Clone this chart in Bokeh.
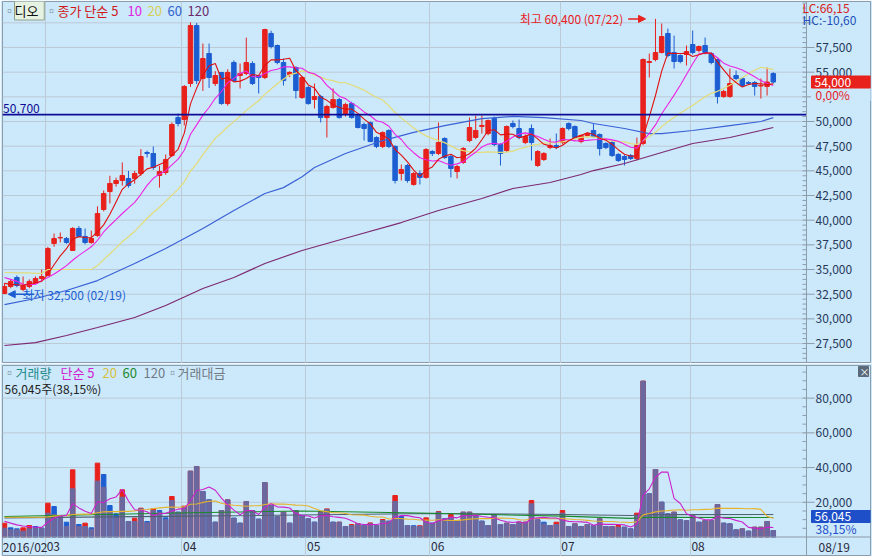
import numpy as np
import pandas as pd
from bokeh.plotting import figure
from bokeh.layouts import column
from bokeh.models import (Range1d, FixedTicker, Span, Label, ColumnDataSource, Arrow, NormalHead)
from bokeh.embed import file_html
from bokeh.resources import INLINE
from bokeh.core.properties import value

# ---------------- data ----------------
opens = [32570, 33280, 34190, 32980, 33280, 33580, 34090, 34400, 37640, 38200,
         38140, 36930, 39160, 38350, 37740, 38450, 41080, 42900, 43720, 44020,
         44220, 44220, 44730, 46860, 46760, 44530, 44830, 46550, 50400, 50200,
         53850, 59730, 54360, 56890, 53850, 54970, 51820, 55980, 54660, 54860,
         55880, 54660, 54460, 58920, 57700, 55980, 54760, 55470, 52430, 53450,
         52230, 52530, 50400, 51420, 52230, 50710, 51820, 50610, 49700, 49900,
         48380, 47470, 49090, 47470, 44730, 45540, 43620, 44730, 44330, 46960,
         46760, 48280, 46450, 44930, 45850, 48070, 48380, 49500, 48780, 50300,
         47670, 47060, 49800, 49290, 47870, 49290, 45540, 46150, 47370, 47570,
         47870, 49800, 49490, 47970, 48580, 49090, 48680, 47770, 47870, 46660,
         46450, 46550, 46250, 47770, 55980, 56280, 56990, 58920, 56990, 56690,
         56790, 57800, 57200, 57700, 56890, 56280, 52530, 52530, 54660, 54360,
         53950, 53950, 53600, 53550, 54860]
highs = [33600, 34000, 34400, 34300, 34000, 34300, 35000, 37300, 38650, 38750,
         38300, 39300, 39400, 39150, 38950, 41400, 43000, 44500, 44300, 45850,
         45000, 45000, 47200, 47050, 47470, 45500, 46660, 49900, 50800, 53700,
         60050, 60000, 57900, 57900, 55100, 55000, 55300, 56200, 55880, 58500,
         56100, 54700, 59400, 59200, 57800, 56380, 55100, 55600, 54600, 53600,
         53850, 52700, 51700, 53350, 52400, 51900, 52000, 50700, 49900, 50000,
         48500, 49000, 49200, 47600, 45640, 45700, 44900, 45040, 47300, 47100,
         49900, 48400, 46600, 45600, 47400, 50400, 50600, 50610, 50200, 50500,
         47800, 49600, 50100, 50200, 48700, 49700, 47100, 46900, 48280, 48780,
         49400, 49900, 49600, 48700, 48900, 49800, 48800, 47900, 48000, 46800,
         46600, 46700, 48380, 56400, 56890, 60400, 59930, 59420, 58700, 56800,
         57700, 59220, 57700, 58510, 57000, 56400, 53200, 55370, 55170, 54500,
         54100, 54100, 54360, 55470, 55000]
lows = [32500, 33100, 33200, 32800, 33100, 33500, 33900, 34300, 37300, 37750,
        37600, 36900, 38300, 37550, 37600, 38300, 40900, 41700, 43400, 43500,
        43300, 43700, 44500, 46350, 45100, 43300, 44600, 46400, 49500, 49600,
        53500, 53800, 53100, 53400, 53600, 51700, 51600, 54000, 53340, 54700,
        53700, 52840, 54300, 57400, 55800, 53650, 54500, 52330, 52300, 51700,
        51320, 49900, 48380, 51300, 50300, 50500, 50300, 49300, 48070, 47900,
        47300, 47300, 47300, 43720, 44020, 43800, 43500, 43620, 44200, 46500,
        46600, 46200, 44330, 44220, 45700, 47900, 48200, 48780, 48600, 47500,
        45540, 46900, 49300, 48200, 47700, 46050, 45400, 46000, 47200, 47200,
        47700, 49100, 48200, 47800, 48400, 48400, 46550, 47200, 46400, 45900,
        45540, 46100, 46050, 47600, 54460, 56100, 56900, 56500, 55370, 55900,
        55670, 56800, 57000, 56800, 55800, 51820, 52400, 52400, 54200, 53500,
        53700, 52630, 52330, 52630, 53850]
closes = [33280, 33790, 33380, 33380, 33790, 34090, 34290, 37130, 38140, 38250,
          37740, 39160, 38350, 37740, 38140, 40680, 42700, 43720, 44020, 44530,
          43510, 44730, 46450, 46760, 45340, 44930, 46150, 49700, 49800, 53550,
          59730, 54150, 56380, 54460, 54660, 51820, 54970, 54150, 54860, 55980,
          53850, 54460, 59320, 57600, 55980, 54150, 54970, 53140, 54460, 51820,
          52530, 50400, 51520, 52230, 50400, 51720, 50400, 49390, 49290, 47970,
          47470, 48880, 47470, 44020, 45140, 44020, 44730, 44330, 47160, 46760,
          47870, 46350, 45240, 45440, 47260, 49390, 49090, 49600, 50100, 47670,
          46760, 49490, 49490, 48380, 48480, 47870, 46960, 46760, 47570, 47370,
          49290, 49290, 48380, 48580, 48780, 48480, 47260, 47370, 46550, 46050,
          46150, 46250, 47570, 56280, 56080, 56990, 58610, 56690, 56080, 56080,
          57090, 56990, 57600, 56990, 55980, 52530, 53040, 53850, 54360, 53650,
          53850, 53550, 53650, 54000, 54000]
volume = [7970, 5280, 4700, 5280, 6620, 6050, 5090, 19490, 17570, 11810,
          8540, 38690, 7200, 7970, 5300, 42530, 36000, 18140, 13340, 27170,
          8930, 10850, 16610, 8930, 16220, 15260, 11040, 23330, 14300, 17760,
          37920, 40610, 26210, 21410, 8540, 15260, 21410, 10850, 7970, 20450,
          15260, 10270, 31390, 18140, 11810, 14300, 7970, 15260, 12400, 10460,
          8540, 14690, 16200, 8540, 8540, 6050, 7200, 7580, 6620, 8100,
          6620, 10080, 9120, 23900, 11810, 6620, 6500, 6500, 11040, 7970,
          14700, 10460, 12960, 9120, 14300, 14300, 12380, 9120, 6620, 12960,
          7200, 7970, 7200, 8540, 8540, 21020, 9890, 8540, 6620, 8540,
          15260, 6050, 7580, 6050, 7200, 6620, 10460, 6050, 6050, 6620,
          5660, 4700, 13730, 89760, 24860, 38880, 20060, 13340, 14300, 9890,
          9500, 12380, 8540, 9500, 9500, 18720, 7970, 7580, 4130, 4700,
          3360, 5660, 5660, 8930, 3740]
trade_value = [5090, 4130, 4130, 3360, 4700, 5090, 5090, 13730, 12960, 11200,
               6050, 27740, 6050, 6050, 4500, 32160, 28700, 14880, 11040, 22940,
               8930, 8930, 16220, 8200, 15260, 14300, 10000, 21020, 14300, 17180,
               37920, 40610, 26210, 21410, 8540, 15260, 21410, 10850, 7970, 20450,
               15260, 10270, 31390, 18140, 11810, 14300, 7970, 15260, 11810, 10460,
               8540, 14300, 15840, 8540, 8540, 6050, 6620, 7580, 6620, 7580,
               6620, 9500, 9120, 20450, 10460, 6620, 6050, 6050, 9500, 7970,
               14300, 10460, 11420, 9120, 14300, 14300, 12380, 9120, 6620, 12960,
               7200, 7970, 7200, 8540, 8540, 19100, 9890, 7580, 6620, 7200,
               13730, 6050, 7580, 6050, 7200, 6620, 10460, 6050, 6050, 5660,
               5660, 4700, 12380, 89760, 24860, 38880, 20060, 13340, 14300, 9890,
               9500, 12380, 8540, 9500, 9500, 18720, 7970, 7580, 4130, 4700,
               3360, 5660, 5660, 8930, 3740]

# start of the moving averages (their earlier history is off-screen)
ma5_head = [33600, 33500, 33450, 33400]
ma10_head = [34190, 34000, 33800, 33500, 33450, 33500, 33900, 34200, 34550]
ma20_head = [34700, 34700, 34650, 34650, 34650, 34600, 34600, 35000, 35000, 35000,
             35000, 35000, 35000, 35000, 35000, 35400, 36000, 36600, 37200]
ma60_idx = [0, 5, 10, 15, 21, 26, 32, 37, 42, 45, 48, 50, 55, 61, 66, 71, 77, 82,
            87, 93, 95, 100, 104, 106, 111, 117, 122, 124]
ma60_val = [31450, 32060, 32870, 33880, 35610, 37130, 39160, 40980, 42700, 43300,
            44400, 45340, 46760, 48070, 48890, 49590, 50300, 50510, 50400, 50100,
            49800, 49290, 48780, 48780, 49090, 49590, 50000, 50400]
ma120_idx = [0, 5, 10, 15, 21, 26, 32, 37, 42, 48, 56, 64, 70, 77, 82, 88, 93, 95,
             100, 106, 111, 117, 122, 124]
ma120_val = [27300, 27600, 28310, 29120, 30140, 31350, 33080, 34190, 35610, 36930,
             38350, 39760, 40980, 42200, 43210, 43820, 44630, 45030, 45740, 46860,
             47770, 48380, 49090, 49390]
vma5_head = [9100, 8000, 7000, 6300]
vma20_head = [11400, 11400, 11400, 11400, 11400, 11400, 11400, 11600, 12000, 12200,
              12300, 13000, 13100, 13200, 13200, 14000, 14500, 14600, 14600]
vma60_idx = [0, 30, 48, 69, 90, 101, 104, 124]
vma60_val = [11800, 14000, 15000, 13700, 12000, 10700, 11400, 11230]
vma120_idx = [0, 30, 69, 90, 101, 104, 124]
vma120_val = [11000, 12000, 13500, 13000, 12400, 12900, 12960]

month_labels = ["2016/02", "03", "04", "05", "06", "07", "08"]
month_start = [0, 7, 29, 49, 69, 90, 111]
last_date_label = "08/19"
price_ticks = [27500, 30000, 32500, 35000, 37500, 40000, 42500, 45000, 47500,
               50000, 52500, 55000, 57500]
price_grid = price_ticks + [60000]
volume_ticks = [20000, 40000, 60000, 80000]
ref_price = 50700
hi_date, lo_date = "07/22", "02/19"
lc_text, hc_text = "LC:66,15", "HC:-10,60"
last_change_text = "0,00%"
last_vol_text = "56,045"
vol_ratio_text = "38,15%"

# ---------------- styles ----------------
BG = "#cce8fb"
GRID = "#bccad6"
FRAME = "#8c9cab"
RED = "#e8211c"
BLUE = "#1c5ed2"
BAR = "#6a689f"
C_MA5, C_MA10, C_MA20, C_MA60, C_MA120 = "#e01010", "#ee22e6", "#e3dc78", "#3a62d6", "#7d2a72"
C_V5, C_V20, C_V60, C_V120 = "#cc22cc", "#e6b42c", "#1a8a2a", "#4f6272"
NAVY = "#0c0c96"
AXIS_TXT = "#25385a"
FONT = "Noto Sans CJK KR"
W = 872
STEP = 6.2                     # px per trading day

n = len(closes)
idx = np.arange(n)
o = np.array(opens, float); c = np.array(closes, float)
h = np.array(highs, float); l = np.array(lows, float)
cs = pd.Series(c)
ma5 = cs.rolling(5).mean().values; ma5[:4] = ma5_head
ma10 = cs.rolling(10).mean().values; ma10[:9] = ma10_head
ma20 = cs.rolling(20).mean().values; ma20[:19] = ma20_head
vs = pd.Series(np.array(volume, float))
vma5 = vs.rolling(5).mean().values; vma5[:4] = vma5_head
vma20 = vs.rolling(20).mean().values; vma20[:19] = vma20_head

ccol = np.where(c >= o, RED, BLUE)
vprev = np.concatenate([[0], np.array(volume[:-1])])
vcol = np.where(np.array(volume) >= vprev, RED, BLUE)

src = ColumnDataSource(dict(x=idx, h=h, l=l, top=np.maximum(o, c), bot=np.minimum(o, c),
                            col=ccol, vol=volume, amt=trade_value, vcol=vcol))

# one frame per pane spanning the whole width; the price scale column is on the right
xr = Range1d(-0.32, -0.32 + (W - 4) / STEP)
X_AX = -0.32 + (806 - 2) / STEP          # the scale's vertical line (data units)
pyr = Range1d(25476, 62161)              # frame rows 1..363
vyr = Range1d(-11232, 98784)             # frame rows 365..556 (zero at row 536.5)


def xd(px):
    return xr.start + (px - 2) / STEP


def py(px):
    return pyr.end - (px - 1) / 362 * (pyr.end - pyr.start)


def vy(px):
    return vyr.end - (px - 365) / 191 * (vyr.end - vyr.start)


def new_fig(height, yr, top):
    f = figure(width=W, height=height, x_range=xr, y_range=yr, x_axis_location=None,
               y_axis_location=None, output_backend="svg", toolbar_location=None,
               min_border_left=2, min_border_right=2, min_border_top=top, min_border_bottom=0,
               background_fill_color=BG, border_fill_color=BG, outline_line_color=FRAME)
    f.ygrid.visible = False
    f.xgrid.ticker = FixedTicker(ticks=[m - 0.4 for m in month_start[1:]])
    f.xgrid.grid_line_color = GRID
    return f


def scale(fig, ticks, minor):
    # horizontal grid, the vertical scale line, ticks
    fig.segment(x0=xr.start, x1=X_AX, y0=ticks, y1=ticks, color=GRID, line_width=1)
    fig.add_layout(Span(location=X_AX, dimension="height", line_color=FRAME, line_width=1))
    fig.segment(x0=X_AX - 4 / STEP, x1=X_AX, y0=minor, y1=minor, color=FRAME, line_width=1)
    fig.segment(x0=X_AX, x1=X_AX + 8 / STEP, y0=ticks, y1=ticks, color=FRAME, line_width=1)


def tick_labels(fig, ticks):
    fig.text(x=xd(815), y=ticks, text=[f"{t:,}" for t in ticks], text_baseline="middle",
             text_font=value(FONT), text_font_size="12px", text_color=AXIS_TXT)


def lab(fig, x, y, text, color, size="12px", **kw):
    fig.add_layout(Label(x=x, y=y, text=text, text_color=color, text_font=FONT,
                         text_font_size=size, text_baseline="middle", **kw))


# ---------------- price pane ----------------
p = new_fig(363, pyr, 1)
scale(p, price_grid, list(range(25500, 62001, 500)))
p.segment(x0="x", y0="l", x1="x", y1="h", color="col", line_width=1, source=src)
p.vbar(x="x", width=0.72, top="top", bottom="bot", fill_color="col", line_color="col", source=src)

p.line(ma120_idx, ma120_val, color=C_MA120, line_width=1.2)
p.line(ma60_idx, ma60_val, color=C_MA60, line_width=1.2)
p.line(idx, ma20, color=C_MA20, line_width=1.2)
p.line(idx, ma10, color=C_MA10, line_width=1.1)
p.line(idx, ma5, color=C_MA5, line_width=1.1)

p.segment(x0=xr.start, x1=X_AX, y0=ref_price, y1=ref_price, color=NAVY, line_width=1.6)
p.add_layout(Label(x=xr.start + 0.1, y=ref_price, y_offset=2, text=f"{ref_price:,}",
                   text_font=FONT, text_font_size="12px", text_color=NAVY, text_baseline="bottom"))
tick_labels(p, price_ticks)

hi_i = int(np.argmax(h)); lo_i = int(np.argmin(l))
p.add_layout(Arrow(end=NormalHead(size=7, fill_color=RED, line_color=RED), x_start=hi_i - 4.4,
                   y_start=h[hi_i], x_end=hi_i - 1.6, y_end=h[hi_i], line_color=RED, line_width=1.5))
lab(p, hi_i - 5.2, h[hi_i], f"최고 {int(h[hi_i]):,} ({hi_date})", RED, text_align="right")
p.add_layout(Arrow(end=NormalHead(size=7, fill_color=BLUE, line_color=BLUE), x_start=lo_i + 4.8,
                   y_start=l[lo_i], x_end=lo_i + 0.6, y_end=l[lo_i], line_color=BLUE, line_width=1.5))
lab(p, lo_i + 2.9, l[lo_i], f"최저 {int(l[lo_i]):,} ({lo_date})", BLUE)

# legend of the price pane
lab(p, xd(3), py(10), "▫", "#7a8a96")
lab(p, xd(14), py(10), " 디오 ", "#111111", "13px", background_fill_color="#e6f3e2",
    border_line_color="#8fa08a")
lab(p, xd(45), py(10), "▫", "#7a8a96")
lab(p, xd(57), py(10), "종가 단순 5", "#d01818", "13px")
lab(p, xd(127), py(10), "10", "#e020e0", "13px")
lab(p, xd(147), py(10), "20", "#d8cf52", "13px")
lab(p, xd(167), py(10), "60", "#3060d0", "13px")
lab(p, xd(187), py(10), "120", "#6a2a6a", "13px")

# right column texts: last price box and its change, which cover the scale labels
lab(p, xd(802), py(7), lc_text, "#d82020")
lab(p, xd(802), py(19), hc_text, "#2050b8")
box_h = 6 * (pyr.end - pyr.start) / 362
p.quad(left=xd(811), right=xd(870), top=c[-1] - box_h, bottom=c[-1] - 3.1 * box_h, color=BG)
p.quad(left=xd(811), right=xd(870), top=c[-1] + box_h, bottom=c[-1] - box_h, color=RED)
lab(p, xd(814), c[-1], f"{int(c[-1]):,}", "white")
lab(p, xd(815), c[-1] - 2 * box_h, last_change_text, RED)

# ---------------- volume pane and date row ----------------
v = new_fig(193, vyr, 2)
scale(v, volume_ticks, list(range(5000, 95001, 5000)))
v.vbar(x="x", width=0.72, top="vol", bottom=0, fill_color="vcol", line_color="vcol", source=src)
v.vbar(x="x", width=0.72, top="amt", bottom=0, fill_color=BAR, line_color=BAR, source=src)
v.line(vma120_idx, vma120_val, color=C_V120, line_width=1.1)
v.line(vma60_idx, vma60_val, color=C_V60, line_width=1.1)
v.line(idx, vma20, color=C_V20, line_width=1.1)
v.line(idx, vma5, color=C_V5, line_width=1.1)
tick_labels(v, volume_ticks)

lab(v, xd(3), vy(372), "▫", "#7a8a96")
lab(v, xd(15), vy(372), "거래량", "#1f8a8a", "13px")
lab(v, xd(60), vy(372), "단순 5", "#d020d0", "13px")
lab(v, xd(102), vy(372), "20", "#d8c040", "13px")
lab(v, xd(122), vy(372), "60", "#1a8a2a", "13px")
lab(v, xd(143), vy(372), "120", "#707a84", "13px")
lab(v, xd(166), vy(372), "▫", "#7a8a96")
lab(v, xd(177), vy(372), "거래대금", "#707a84", "13px")
lab(v, xd(4), vy(388), f"{last_vol_text}주({vol_ratio_text})", "#222222")
v.quad(left=xd(858), right=xd(868), top=vy(366), bottom=vy(376), color="#5a6a7a")
lab(v, xd(859), vy(371), "×", "#ffffff", "10px")
v.quad(left=xd(811), right=xd(870), top=vy(510), bottom=vy(522), color="#1f4fc8")
lab(v, xd(814), vy(516), last_vol_text, "#ffffff")
lab(v, xd(815), vy(528), vol_ratio_text, "#1f4fc8")

# date row under the volume pane
v.add_layout(Span(location=vy(536.5), dimension="width", line_color=FRAME, line_width=1))
v.segment(x0=[X_AX], x1=[X_AX], y0=vyr.start, y1=vy(536.5), color=FRAME)
lab_x = [xr.start + 0.05] + [m - 0.4 + 0.2 for m in month_start[1:]] + [xd(818)]
v.text(x=lab_x, y=vy(546), text=month_labels + [last_date_label], text_baseline="middle",
       text_font=value(FONT), text_font_size="12px", text_color="#2a2a3a")

layout = column(p, v)
open("out.html", "w").write(file_html(layout, INLINE))
